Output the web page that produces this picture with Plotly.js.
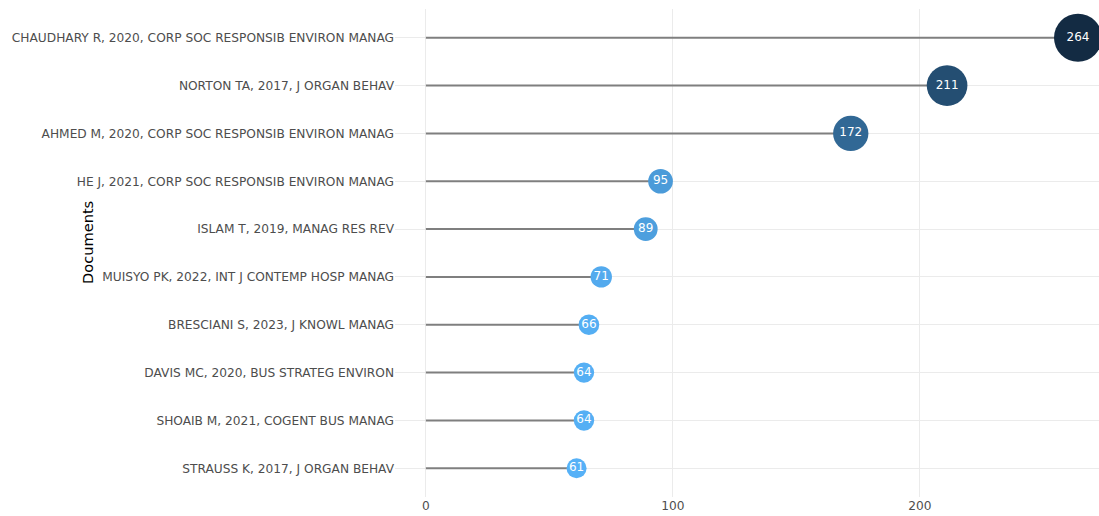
<!DOCTYPE html>
<html>
<head>
<meta charset="utf-8">
<script src="https://cdn.plot.ly/plotly-3.0.1.min.js"></script>
<style>html,body{margin:0;padding:0;background:#fff;}#chart{width:1099px;height:516px;}</style>
</head>
<body>
<div id="chart"></div>
<script>
// Data (bottom to top)
const documents = [
  "STRAUSS K, 2017, J ORGAN BEHAV",
  "SHOAIB M, 2021, COGENT BUS MANAG",
  "DAVIS MC, 2020, BUS STRATEG ENVIRON",
  "BRESCIANI S, 2023, J KNOWL MANAG",
  "MUISYO PK, 2022, INT J CONTEMP HOSP MANAG",
  "ISLAM T, 2019, MANAG RES REV",
  "HE J, 2021, CORP SOC RESPONSIB ENVIRON MANAG",
  "AHMED M, 2020, CORP SOC RESPONSIB ENVIRON MANAG",
  "NORTON TA, 2017, J ORGAN BEHAV",
  "CHAUDHARY R, 2020, CORP SOC RESPONSIB ENVIRON MANAG"
];
const citations = [61, 64, 64, 66, 71, 89, 95, 172, 211, 264];
const xTickVals = [0, 100, 200];
const xTickText = ["0", "100", "200"];

const vmin = Math.min(...citations), vmax = Math.max(...citations);
const sizes = citations.map(v => 20 + (v - vmin) / (vmax - vmin) * 28);

// segment trace
const segX = [], segY = [];
documents.forEach((d, i) => { segX.push(0, citations[i], null); segY.push(d, d, null); });

const font = "DejaVu Sans, Verdana, sans-serif";

const traces = [
  {
    type: "scatter", mode: "lines", x: segX, y: segY,
    line: {color: "#7f7f7f", width: 2}, hoverinfo: "skip", showlegend: false
  },
  {
    type: "scatter", mode: "markers+text", x: citations, y: documents,
    text: citations.map(String), textposition: "middle center",
    textfont: {color: "#ffffff", size: 12, family: font},
    marker: {
      size: sizes, color: citations,
      colorscale: [[0, "#56B1F7"], [1, "#132B43"]], cmin: vmin, cmax: vmax,
      line: {width: 0}, opacity: 1
    },
    cliponaxis: true, showlegend: false
  }
];

const layout = {
  width: 1099, height: 516,
  margin: {l: 395, r: 0, t: 9, b: 19, pad: 0},
  paper_bgcolor: "#ffffff", plot_bgcolor: "#ffffff",
  font: {family: font, color: "#4d4d4d"},
  showlegend: false,
  xaxis: {
    range: [-12.5, 272.5], tickvals: xTickVals, ticktext: xTickText,
    showgrid: true, gridcolor: "#ebebeb", gridwidth: 1, zeroline: false,
    showline: false, ticks: "", tickfont: {size: 12.2, color: "#4d4d4d", family: font},
    fixedrange: true
  },
  yaxis: {
    type: "category", categoryorder: "array", categoryarray: documents,
    range: [-0.6, 9.6],
    showgrid: true, gridcolor: "#ebebeb", gridwidth: 1, zeroline: false,
    showline: false, ticks: "", ticklen: 0,
    tickfont: {size: 12.2, color: "#4d4d4d", family: font},
    fixedrange: true
  },
  annotations: [{
    text: "Documents", xref: "paper", yref: "paper",
    x: (87 - 395) / 704, y: (497 - 243) / 488, xanchor: "center", yanchor: "middle",
    textangle: -90, showarrow: false,
    font: {size: 14.6, color: "#000000", family: font}
  }]
};

Plotly.newPlot("chart", traces, layout, {displayModeBar: false, responsive: false});
</script>
</body>
</html>
